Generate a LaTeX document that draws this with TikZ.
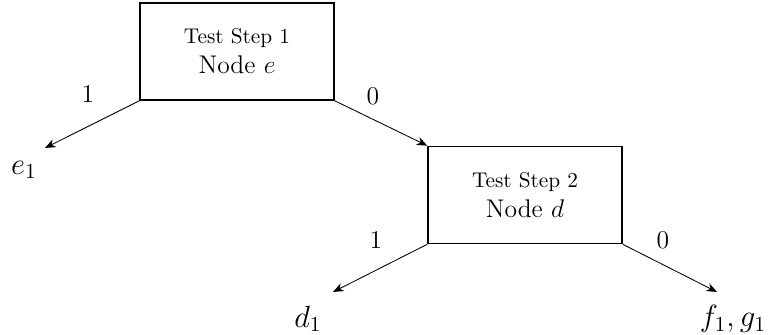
\documentclass[tikz,border=0pt]{standalone}
\usetikzlibrary{arrows.meta}
\begin{document}
\begin{tikzpicture}[x=0.4695pt,y=-0.4695pt,
  testbox/.style={draw,line width=0.8pt,minimum width=91pt,minimum height=45.5pt,
    inner sep=0pt,align=center,font=\normalsize},
  branch/.style={-{Stealth[length=5pt,width=4pt]},line width=0.4pt},
  lbl/.style={font=\large,inner sep=0pt},
  leaf/.style={font=\Large,inner sep=0pt}]
\useasboundingbox (0,0) rectangle (771,335);

% test steps
\node[testbox] (s1) at (237,51.5) {Test Step 1\\[2pt]{\large Node $e$}};
\node[testbox] (s2) at (525,195) {Test Step 2\\[2pt]{\large Node $d$}};

% arrow ends and outcomes
\coordinate (e1end) at (45,148);
\coordinate (d1end) at (333,292);
\coordinate (fgend) at (717,292);

\node[leaf] (e1) at (24,170) {$e_1$};
\node[leaf] (d1) at (308,319) {$d_1$};
\node[leaf] (fg) at (733,319) {$f_1, g_1$};

% branches
\draw[branch] (s1.south west) -- (e1end);
\draw[branch] (s1.south east) -- (s2.north west);
\draw[branch] (s2.south west) -- (d1end);
\draw[branch] (s2.south east) -- (fgend);

% branch values
\node[lbl] (l1) at (88,94) {1};
\node[lbl] (l2) at (373,96) {0};
\node[lbl] (l3) at (376,240) {1};
\node[lbl] (l4) at (663,240) {0};
\end{tikzpicture}
\end{document}
